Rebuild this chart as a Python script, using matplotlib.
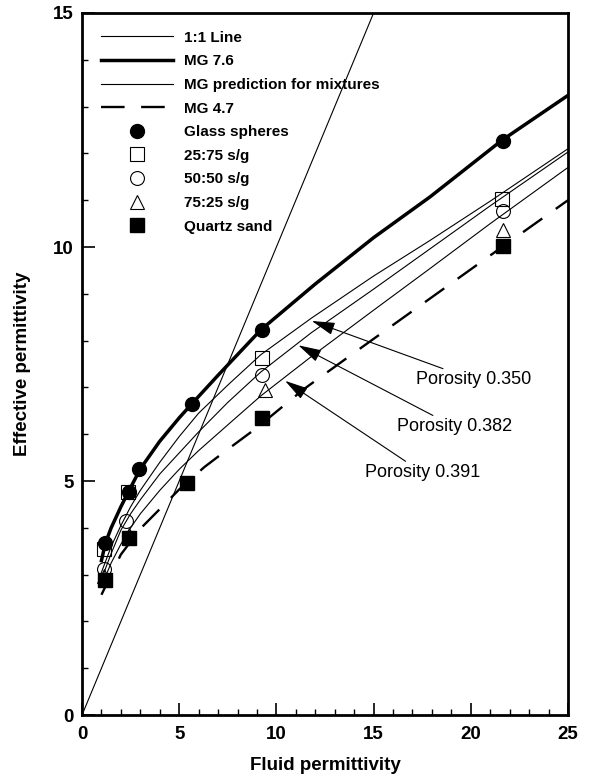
import numpy as np
import matplotlib.pyplot as plt

plt.rcParams['font.family'] = ['Liberation Sans', 'DejaVu Sans']

# measured points
glass_x = [1.2, 2.4, 2.95, 5.65, 9.25, 21.65]
glass_y = [3.67, 4.77, 5.26, 6.65, 8.23, 12.27]
s25_x = [1.13, 2.39, 9.26, 21.6]
s25_y = [3.55, 4.77, 7.62, 11.02]
s50_x = [1.13, 2.25, 9.26, 21.65]
s50_y = [3.13, 4.15, 7.27, 10.77]
s75_x = [1.15, 2.4, 9.4, 21.65]
s75_y = [2.97, 3.85, 6.94, 10.37]
quartz_x = [1.19, 2.44, 5.4, 9.26, 21.65]
quartz_y = [2.88, 3.78, 4.95, 6.35, 10.02]

# model curves
one_x = [0, 25]
one_y = [0, 25]
mg76_x = [1.0, 1.2, 1.5, 2.0, 2.4, 3.0, 4.0, 5.0, 5.65, 7.0, 9.2, 12.0, 15.0, 17.9, 21.6, 25.0]
mg76_y = [3.3, 3.67, 4.0, 4.45, 4.78, 5.26, 5.85, 6.35, 6.65, 7.26, 8.23, 9.21, 10.2, 11.07, 12.28, 13.24]
mix_x = [1.0, 1.5, 2.0, 2.5, 3.0, 4.0, 5.0, 6.0, 7.5, 9.2, 11.8, 15.0, 17.9, 21.0, 25.0]
mixA_y = [3.05, 3.6, 4.05, 4.45, 4.8, 5.4, 5.95, 6.45, 7.05, 7.7, 8.48, 9.38, 10.14, 10.98, 12.1]
mixB_y = [2.9, 3.45, 3.95, 4.3, 4.6, 5.15, 5.6, 6.05, 6.68, 7.33, 8.17, 9.1, 9.96, 10.88, 12.03]
mixC_y = [2.75, 3.25, 3.65, 4.0, 4.3, 4.8, 5.25, 5.65, 6.2, 6.82, 7.66, 8.65, 9.54, 10.5, 11.7]
mg47_x = [1.0, 1.5, 2.0, 3.0, 4.0, 5.0, 6.3, 7.25, 9.0, 11.4, 14.0, 17.5, 21.0, 25.0]
mg47_y = [2.57, 3.0, 3.43, 3.98, 4.4, 4.82, 5.3, 5.6, 6.14, 6.96, 7.74, 8.78, 9.82, 11.0]

labels = ['Porosity 0.350', 'Porosity 0.382', 'Porosity 0.391']
tips = [(11.82, 8.42), (11.13, 7.9), (10.45, 7.14)]
texts = [(17.2, 7.16), (16.2, 6.16), (14.55, 5.18)]

fig = plt.figure(figsize=(5.9, 7.83), dpi=100)
ax = fig.add_axes([0.139, 0.0868, 0.8237, 0.8966])

ax.plot(one_x, one_y, color='k', lw=0.8, label='1:1 Line')
ax.plot(mg76_x, mg76_y, color='k', lw=2.5, label='MG 7.6')
ax.plot(mix_x, mixA_y, color='k', lw=0.8, label='MG prediction for mixtures')
ax.plot(mix_x, mixB_y, color='k', lw=0.8)
ax.plot(mix_x, mixC_y, color='k', lw=0.8)
ax.plot(mg47_x, mg47_y, color='k', lw=1.7, ls=(0, (10, 7)), label='MG 4.7')

ax.plot(glass_x, glass_y, 'o', color='k', ms=10, ls='none', label='Glass spheres', zorder=5)
ax.plot(s25_x, s25_y, 's', mfc='none', mec='k', mew=0.8, ms=10, ls='none', label='25:75 s/g', zorder=5)
ax.plot(s50_x, s50_y, 'o', mfc='none', mec='k', mew=0.8, ms=10, ls='none', label='50:50 s/g', zorder=5)
ax.plot(s75_x, s75_y, '^', mfc='none', mec='k', mew=0.8, ms=10, ls='none', label='75:25 s/g', zorder=5)
ax.plot(quartz_x, quartz_y, 's', color='k', ms=10, ls='none', label='Quartz sand', zorder=6)

for lab, tip, txt in zip(labels, tips, texts):
    ax.annotate(lab, xy=tip, xytext=txt, fontsize=13, va='center', ha='left',
                arrowprops=dict(arrowstyle='-|>,head_length=1.1,head_width=0.3',
                                color='k', lw=0.8, shrinkA=0, shrinkB=0))

ax.set_xlim(0, 25)
ax.set_ylim(0, 15)
ax.set_xticks([0, 5, 10, 15, 20, 25])
ax.set_yticks([0, 5, 10, 15])
ax.set_xticks(np.arange(0, 26, 1), minor=True)
ax.set_yticks(np.arange(0, 16, 1), minor=True)
ax.tick_params(which='major', direction='in', length=9, width=1.2, labelsize=13.5)
ax.tick_params(axis='x', which='major', pad=8)
ax.tick_params(axis='y', which='major', pad=6)
ax.tick_params(which='minor', direction='in', length=4, width=1)
for t in ax.get_xticklabels() + ax.get_yticklabels():
    t.set_fontweight('bold')
for s in ax.spines.values():
    s.set_linewidth(2)

ax.set_xlabel('Fluid permittivity', fontsize=13.5, fontweight='bold', labelpad=10)
ax.set_ylabel('Effective permittivity', fontsize=13.5, fontweight='bold', labelpad=16)

leg = ax.legend(loc='upper left', bbox_to_anchor=(0.018, 0.99), frameon=False,
                handlelength=4.7, labelspacing=0.63, handletextpad=0.72,
                borderaxespad=0.3, prop={'weight': 'bold', 'size': 11})

fig.savefig('out.png', dpi=100)
